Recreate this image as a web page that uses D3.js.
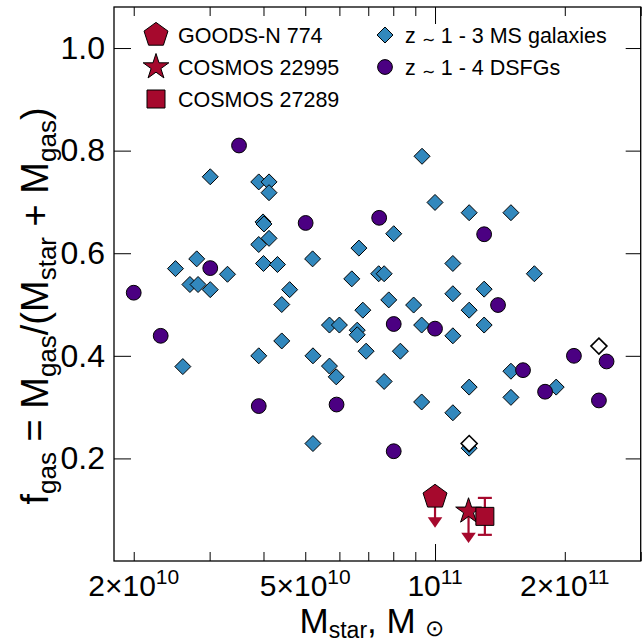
<!DOCTYPE html>
<html><head><meta charset="utf-8">
<script src="https://cdn.jsdelivr.net/npm/d3@7"></script>
<style>
body{margin:0;background:#fff}
svg{display:block}
text{font-family:"Liberation Sans",Arial,Helvetica,sans-serif;fill:#000}
</style>
</head><body>
<svg id="c" width="642" height="643"></svg>
<script>
// ---------------- data ----------------
// z~1-3 main-sequence galaxies (filled diamonds)
const msMass = [3.01e10,3.90e10,4.12e10,4.12e10,3.99e10,4.01e10,4.12e10,3.90e10,2.80e10,2.50e10,
  4.00e10,4.31e10,5.20e10,6.66e10,3.30e10,2.70e10,2.82e10,3.01e10,4.60e10,4.41e10,
  6.41e10,6.80e10,9.33e10,1.00e11,1.20e11,1.50e11,8.02e10,1.10e11,7.40e10,7.62e10,
  1.70e11,1.10e11,1.30e11,7.81e10,8.92e10,1.20e11,9.31e10,1.30e11,1.10e11,5.69e10,
  6.00e10,6.60e10,6.60e10,4.41e10,3.90e10,5.21e10,5.69e10,5.90e10,6.92e10,8.31e10,
  2.60e10,5.21e10,7.62e10,1.20e11,1.50e11,1.91e11,1.50e11,9.31e10,1.10e11,1.20e11];
const msFgas = [0.749,0.739,0.739,0.718,0.661,0.657,0.629,0.617,0.589,0.570,
  0.580,0.578,0.589,0.610,0.559,0.539,0.539,0.529,0.529,0.500,
  0.550,0.489,0.789,0.699,0.679,0.679,0.638,0.580,0.560,0.560,
  0.560,0.521,0.530,0.509,0.499,0.489,0.460,0.460,0.439,0.460,
  0.460,0.450,0.441,0.429,0.400,0.400,0.380,0.359,0.409,0.409,
  0.379,0.229,0.350,0.339,0.370,0.339,0.319,0.310,0.289,0.220];
// open diamonds
const openMass = [2.40e11,1.20e11];
const openFgas = [0.419,0.229];
// z~1-4 DSFGs (circles)
const dsfgMass = [2.00e10,2.31e10,3.01e10,3.51e10,3.90e10,5.01e10,5.91e10,7.42e10,8.02e10,8.02e10,
  1.00e11,1.30e11,1.40e11,1.60e11,1.80e11,2.10e11,2.40e11,2.50e11];
const dsfgFgas = [0.523,0.439,0.571,0.810,0.302,0.659,0.305,0.669,0.462,0.214,
  0.453,0.637,0.499,0.372,0.330,0.400,0.313,0.389];
// highlighted sources
const srcNames = ["GOODS-N 774","COSMOS 22995","COSMOS 27289"];
const srcShapes = ["pentagon","star","square"];
const srcMass = [1.00e11,1.196e11,1.305e11];
const srcFgas = [0.125,0.097,0.087];
const srcUpperLimit = [true,true,false];
const srcErr = [0.06,0.062,0.036];
// axes
const xMinorTicks = [2e10,3e10,4e10,5e10,6e10,7e10,8e10,9e10,2e11,3e11];
const xMajorTicks = [1e11];
const xLabelValues = [2e10,5e10,1e11,2e11];
const xLabelMant = ["2\u00d7","5\u00d7","","2\u00d7"];
const xLabelExp = ["10","10","11","11"];
const yTicks = [0.2,0.4,0.6,0.8,1.0];
const legendPrefix2 = ["z ","z "];
const legendSuffix2 = [" 1 - 3 MS galaxies"," 1 - 4 DSFGs"];

// ---------------- layout ----------------
const L=114, R=640.7, T=7, B=561;
const cRed="#a6092d", cBlue="#3288bd", cPurple="#4b0082";
const svg=d3.select("#c");
const x=d3.scaleLog().domain([1.8e10,3e11]).range([L,R]);
const y=d3.scaleLinear().domain([0,1.08]).range([B,T]);

function ax(gen, tx, ty){ const g=svg.append("g").attr("transform",`translate(${tx},${ty})`).call(gen); g.select(".domain").remove(); g.selectAll("line").attr("stroke","#000").attr("stroke-width",1); return g;}
ax(d3.axisBottom(x).tickValues(xMinorTicks).tickSizeInner(-9).tickSizeOuter(0).tickFormat(()=>""),0,B);
ax(d3.axisBottom(x).tickValues(xMajorTicks).tickSizeInner(-17).tickSizeOuter(0).tickFormat(()=>""),0,B);
ax(d3.axisTop(x).tickValues(xMinorTicks).tickSizeInner(-9).tickSizeOuter(0).tickFormat(()=>""),0,T);
ax(d3.axisTop(x).tickValues(xMajorTicks).tickSizeInner(-17).tickSizeOuter(0).tickFormat(()=>""),0,T);
const ly=ax(d3.axisLeft(y).tickValues(yTicks).tickSizeInner(-17).tickSizeOuter(0).tickPadding(9).tickFormat(d3.format(".1f")),L,0);
ly.selectAll("text").attr("font-size",32).attr("font-family","Liberation Sans, Arial, sans-serif").attr("fill","#000");
ax(d3.axisRight(y).tickValues(yTicks).tickSizeInner(-15).tickSizeOuter(0).tickFormat(()=>""),R,0);

// x tick labels
xLabelValues.forEach((v,i)=>{
  const t=svg.append("text").attr("x",x(v)).attr("y",596).attr("text-anchor","middle").attr("font-size",30);
  t.append("tspan").text(xLabelMant[i]+"10");
  t.append("tspan").attr("font-size",21).attr("dy",-12).text(xLabelExp[i]);
});

// frame
svg.append("rect").attr("x",L).attr("y",T).attr("width",R-L).attr("height",B-T)
  .attr("fill","none").attr("stroke","#000").attr("stroke-width",1.3);

// axis titles
function rich(sel, segs, big, small, off){
  let shift=0;
  segs.forEach(s=>{
    const ts=sel.append("tspan").text(s.t);
    if(s.sub){ ts.attr("font-size",small).attr("dy",off-shift); shift=off; }
    else if(s.sun){ ts.attr("font-size",s.size).attr("dy",s.off-shift); shift=s.off; }
    else { ts.attr("font-size",big).attr("dy",-shift); shift=0; }
  });
}
const yt=svg.append("text").attr("transform","translate(48,306) rotate(-90)").attr("text-anchor","middle");
rich(yt,[{t:"f"},{t:"gas",sub:1},{t:" = M"},{t:"gas",sub:1},{t:"/(M"},{t:"star",sub:1},{t:" + M"},{t:"gas",sub:1},{t:")"}],38,26,8);
const xt=svg.append("text").attr("x",372).attr("y",633).attr("text-anchor","middle");
rich(xt,[{t:"M"},{t:"star",sub:1},{t:", M "},{t:"\u2299",sun:1,size:23,off:3}],35,23,5);

// marker helpers
const diamond=(s)=>`M0,${-s}L${s},0L0,${s}L${-s},0Z`;
const pentagon=(r)=>{let p=[];for(let k=0;k<5;k++){const a=-Math.PI/2+k*2*Math.PI/5;p.push([r*Math.cos(a),r*Math.sin(a)]);}return "M"+p.map(q=>q.join(",")).join("L")+"Z";};
const starPath=d3.symbol(d3.symbolStar, 13.5*13.5/0.8908130915292852)();
const squarePath=d3.symbol(d3.symbolSquare, 18*18)();
function shapePath(s){return s==="pentagon"?pentagon(12.6):s==="star"?starPath:squarePath;}

// MS galaxies
svg.append("g").selectAll("path").data(d3.range(msMass.length)).join("path")
  .attr("d",diamond(8)).attr("transform",i=>`translate(${x(msMass[i])},${y(msFgas[i])})`)
  .attr("fill",cBlue).attr("stroke","#000").attr("stroke-width",1);
// open diamonds
svg.append("g").selectAll("path").data(d3.range(openMass.length)).join("path")
  .attr("d",diamond(8)).attr("transform",i=>`translate(${x(openMass[i])},${y(openFgas[i])})`)
  .attr("fill","#fff").attr("stroke","#000").attr("stroke-width",1.6);
// DSFGs
svg.append("g").selectAll("circle").data(d3.range(dsfgMass.length)).join("circle")
  .attr("cx",i=>x(dsfgMass[i])).attr("cy",i=>y(dsfgFgas[i])).attr("r",7.4)
  .attr("fill",cPurple).attr("stroke","#000").attr("stroke-width",1);

// highlighted sources
srcNames.forEach((n,i)=>{
  const cx=x(srcMass[i]), cy=y(srcFgas[i]);
  const g=svg.append("g");
  if(srcUpperLimit[i]){
    const tip=y(srcFgas[i]-srcErr[i]);
    g.append("line").attr("x1",cx).attr("x2",cx).attr("y1",cy).attr("y2",tip-8).attr("stroke",cRed).attr("stroke-width",2.2);
    g.append("path").attr("d",`M${cx-7.3},${tip-10.3}L${cx+7.3},${tip-10.3}L${cx},${tip}Z`).attr("fill",cRed);
  } else {
    const y1=y(srcFgas[i]+srcErr[i]), y2=y(srcFgas[i]-srcErr[i]);
    g.append("line").attr("x1",cx).attr("x2",cx).attr("y1",y1).attr("y2",y2).attr("stroke",cRed).attr("stroke-width",2.2);
    [y1,y2].forEach(yy=>g.append("line").attr("x1",cx-7).attr("x2",cx+7).attr("y1",yy).attr("y2",yy).attr("stroke",cRed).attr("stroke-width",2.2));
  }
  g.append("path").attr("d",shapePath(srcShapes[i])).attr("transform",`translate(${cx},${cy})`)
    .attr("fill",cRed).attr("stroke","#000").attr("stroke-width",1);
});

// legend
const leg=svg.append("g");
const legY=[35,67,99];
srcNames.forEach((n,i)=>{
  leg.append("path").attr("d",shapePath(srcShapes[i])).attr("transform",`translate(156,${legY[i]})`)
    .attr("fill",cRed).attr("stroke","#000").attr("stroke-width",1);
  leg.append("text").attr("x",178).attr("y",legY[i]).attr("dy","0.35em").attr("font-size",21.5).text(n);
});
leg.append("path").attr("d",diamond(8)).attr("transform","translate(385,35)").attr("fill",cBlue).attr("stroke","#000");
leg.append("circle").attr("cx",385).attr("cy",67).attr("r",7.4).attr("fill",cPurple).attr("stroke","#000");
legendSuffix2.forEach((t,i)=>{
  const tx=leg.append("text").attr("x",405).attr("y",legY[i]).attr("dy","0.35em").attr("font-size",21.5);
  tx.append("tspan").text(legendPrefix2[i]);
  tx.append("tspan").attr("font-size",16).attr("dy",2).text("\u223c");
  tx.append("tspan").attr("dy",-2).text(t);
});
</script></body></html>
